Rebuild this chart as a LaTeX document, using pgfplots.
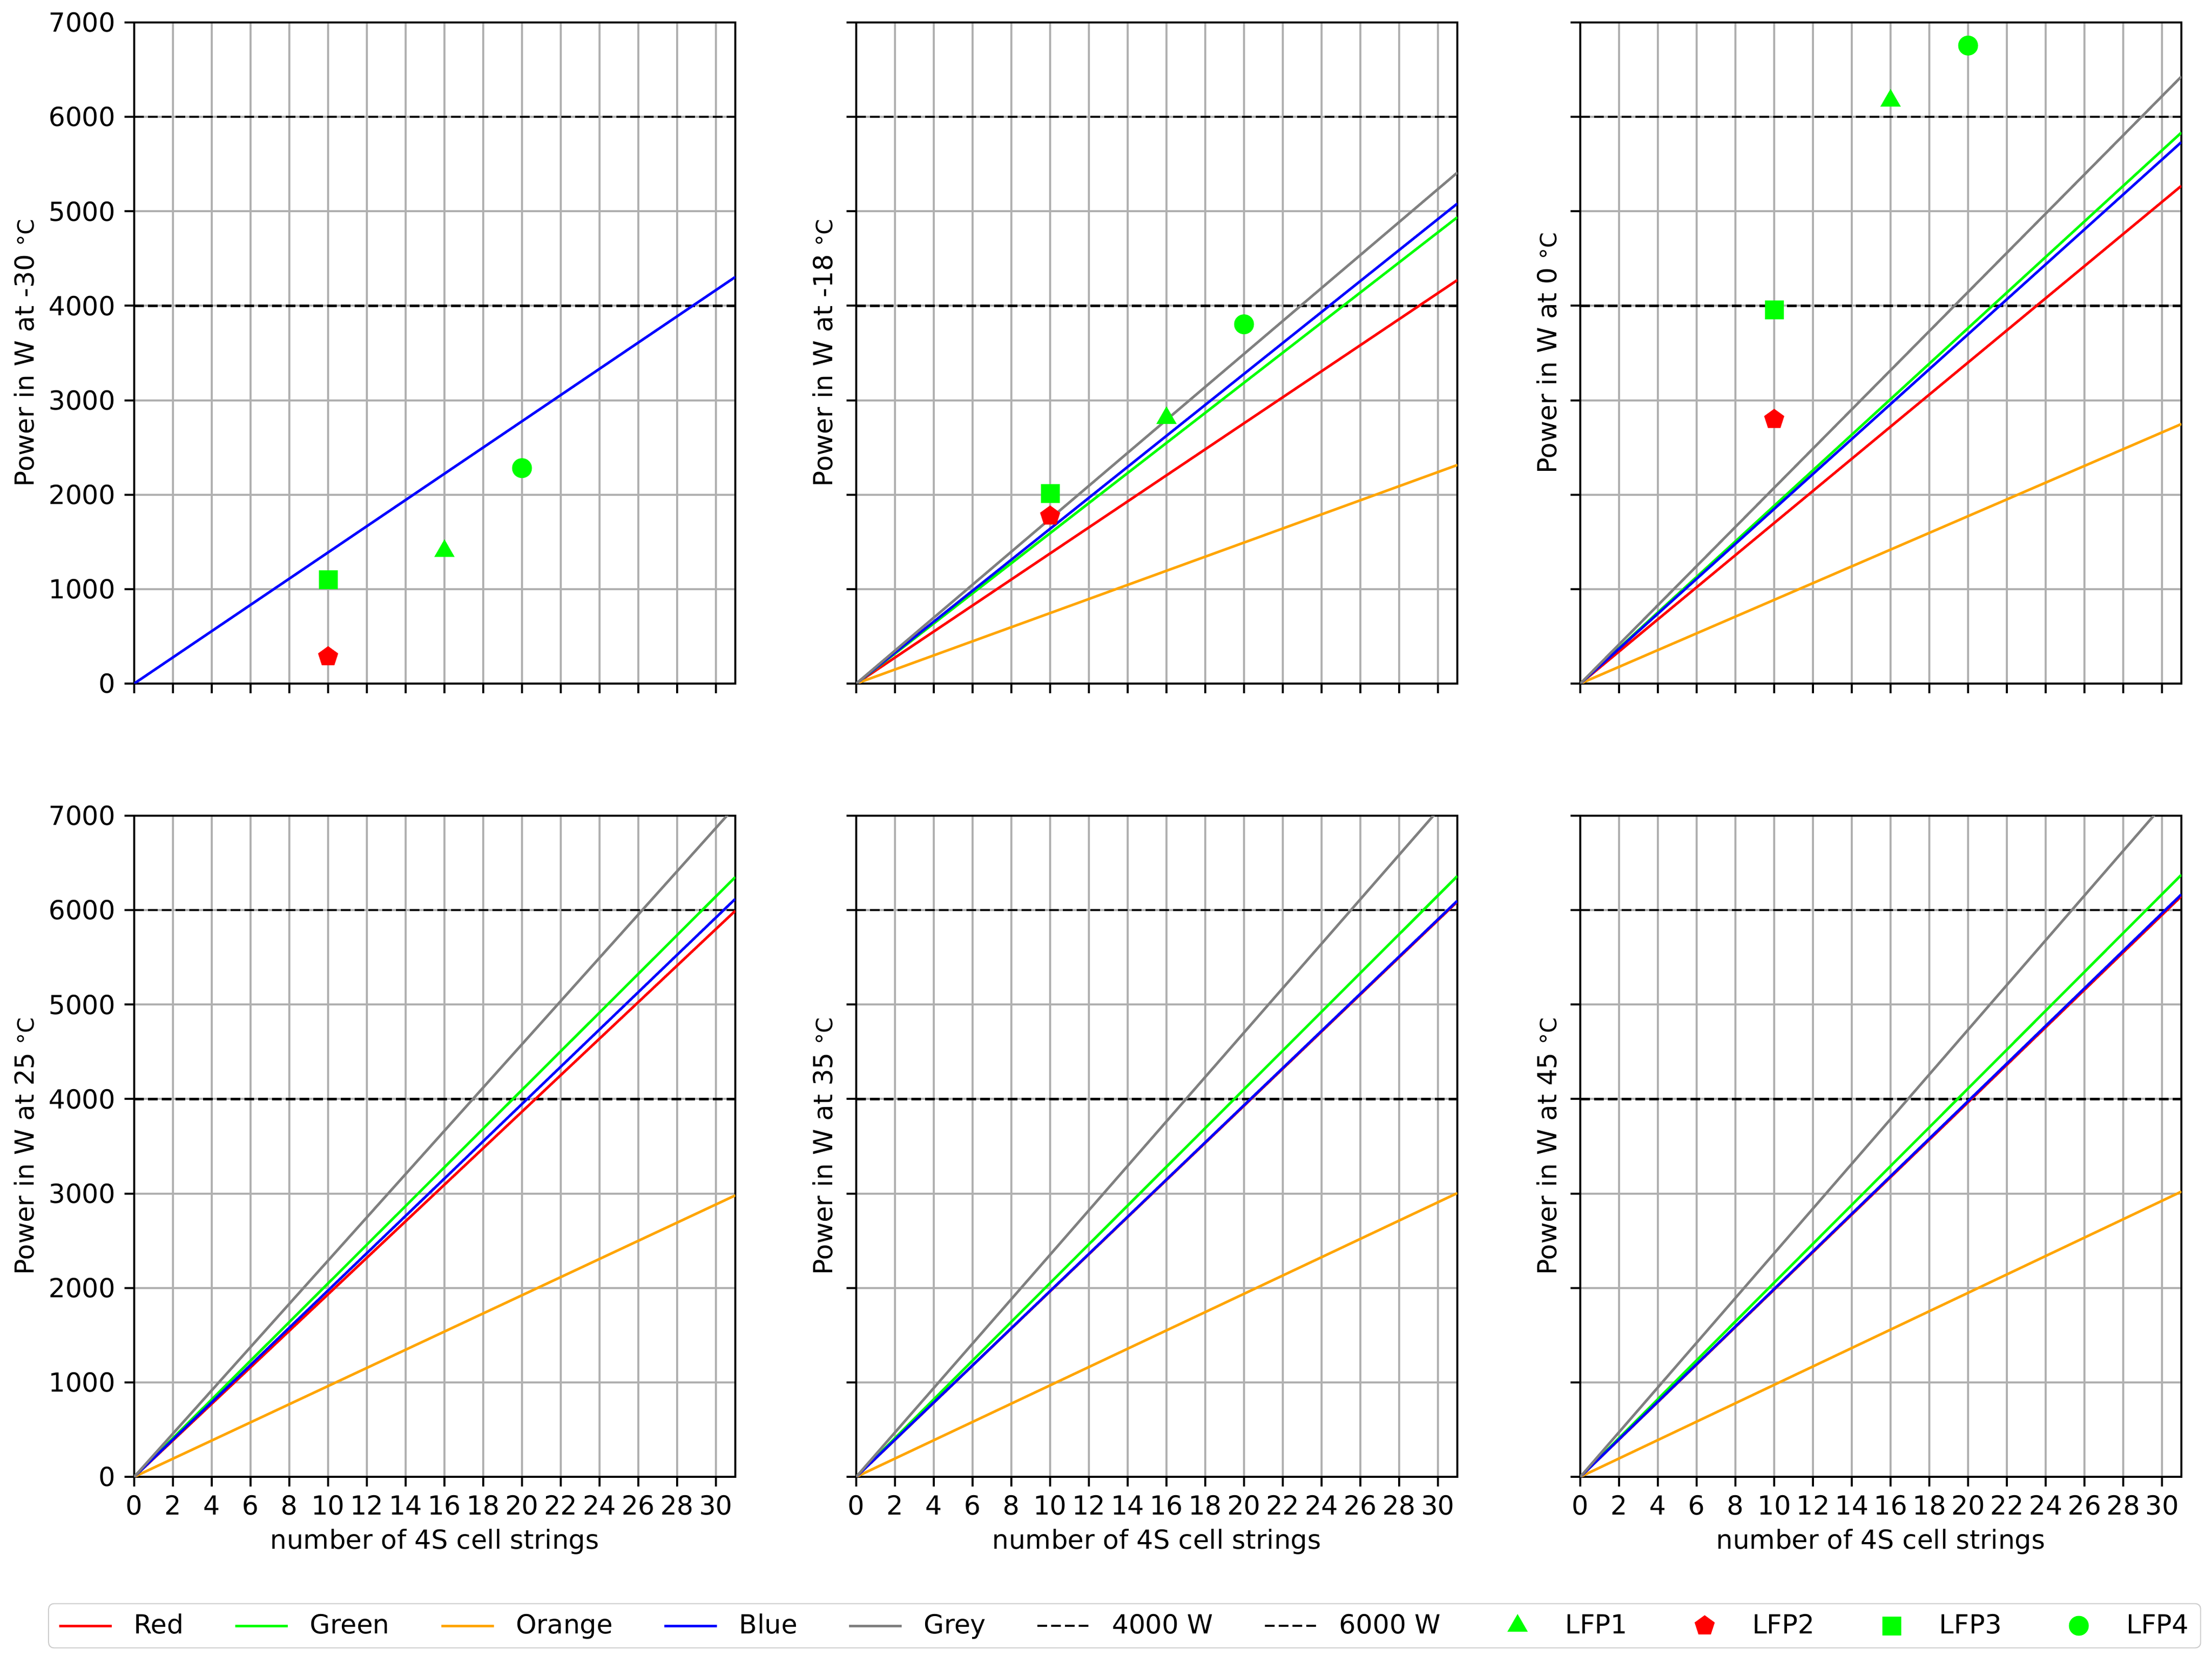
\documentclass[border=0pt]{standalone}
\usepackage{fontspec}
\setmainfont{DejaVu Sans}
\usepackage{pgfplots}
\pgfplotsset{compat=1.18}
\definecolor{cRed}{HTML}{FF0000}
\definecolor{cGreen}{HTML}{00FF00}
\definecolor{cOrange}{HTML}{FFA500}
\definecolor{cBlue}{HTML}{0000FF}
\definecolor{cGrey}{HTML}{808080}
\definecolor{gridc}{HTML}{B0B0B0}
\newcommand{\fs}{\fontsize{10.3}{12.4}\selectfont}
\newcommand{\degc}{{\fontsize{8.8}{10}\selectfont °C}}
\pgfplotsset{
  panel/.style={
    scale only axis, width=235.6pt, height=259.2pt,
    xmin=0, xmax=31, ymin=0, ymax=7000,
    xtick={0,2,...,30}, ytick={0,1000,...,7000},
    xtick pos=left, ytick pos=left,
    tick align=outside, major tick length=3.8pt,
    grid=major, grid style={gridc, line width=0.8pt},
    axis line style={black, line width=0.9pt},
    tick style={black, line width=0.8pt},
    tick label style={font=\fs},
    label style={font=\fs},
    /pgf/number format/assume math mode=true,
    /pgf/number format/1000 sep={},
    scaled ticks=false,
    xlabel style={at={(axis description cs:0.5,-0.098)}, anchor=center},
    legend image code/.code={\path (0pt,-2pt) (20.6pt,2pt);\draw[mark repeat=2,mark phase=2,#1] plot coordinates {(0pt,0pt)(10.3pt,0pt)(20.6pt,0pt)};},
  },
  lefty/.style={ylabel style={at={(axis description cs:-0.183,0.5)}, anchor=center}},
  othery/.style={yticklabels={}, ylabel style={at={(axis description cs:-0.056,0.5)}, anchor=center}},
  ln/.style={line width=1pt},
  dsh/.style={black, line width=0.9pt, dash pattern=on 3.8pt off 1.6pt},
  lfpA/.style={only marks, mark=triangle*, mark size=4.2pt, cGreen, mark options={fill=cGreen, draw=cGreen}},
  lfpB/.style={only marks, mark=pentagon*, mark size=3.9pt, cRed, mark options={fill=cRed, draw=cRed}},
  lfpC/.style={only marks, mark=square*, mark size=3.5pt, cGreen, mark options={fill=cGreen, draw=cGreen}},
  lfpD/.style={only marks, mark=*, mark size=3.7pt, cGreen, mark options={fill=cGreen, draw=cGreen}},
}
\begin{document}
\begin{tikzpicture}[font=\fs]
\useasboundingbox (0,0) rectangle (867pt,651.4pt);

% ---------- -30 C
\begin{axis}[panel, lefty, at={(52.6pt,383.4pt)}, anchor=south west, xticklabels={},
  ylabel={Power in W at -30 \degc}]
\addplot[dsh] coordinates {(0,4000) (31,4000)};
\addplot[dsh] coordinates {(0,6000) (31,6000)};
\addplot[ln, cBlue] coordinates {(0,0) (31,4305)};
\addplot[lfpA] coordinates {(16,1403)};
\addplot[lfpB] coordinates {(10,284)};
\addplot[lfpC] coordinates {(10,1099)};
\addplot[lfpD] coordinates {(20,2281)};
\end{axis}

% ---------- -18 C
\begin{axis}[panel, othery, at={(335.6pt,383.4pt)}, anchor=south west, xticklabels={},
  ylabel={Power in W at -18 \degc}]
\addplot[dsh] coordinates {(0,4000) (31,4000)};
\addplot[dsh] coordinates {(0,6000) (31,6000)};
\addplot[ln, cRed] coordinates {(0,0) (31,4272)};
\addplot[ln, cGreen] coordinates {(0,0) (31,4937)};
\addplot[ln, cOrange] coordinates {(0,0) (31,2314)};
\addplot[ln, cBlue] coordinates {(0,0) (31,5082)};
\addplot[ln, cGrey] coordinates {(0,0) (31,5410)};
\addplot[lfpA] coordinates {(16,2811)};
\addplot[lfpB] coordinates {(10,1774)};
\addplot[lfpC] coordinates {(10,2011)};
\addplot[lfpD] coordinates {(20,3804)};
\end{axis}

% ---------- 0 C
\begin{axis}[panel, othery, at={(619.4pt,383.4pt)}, anchor=south west, xticklabels={},
  ylabel={Power in W at 0 \degc}]
\addplot[dsh] coordinates {(0,4000) (31,4000)};
\addplot[dsh] coordinates {(0,6000) (31,6000)};
\addplot[ln, cRed] coordinates {(0,0) (31,5270)};
\addplot[ln, cGreen] coordinates {(0,0) (31,5834)};
\addplot[ln, cOrange] coordinates {(0,0) (31,2748)};
\addplot[ln, cBlue] coordinates {(0,0) (31,5733)};
\addplot[ln, cGrey] coordinates {(0,0) (31,6427)};
\addplot[lfpA] coordinates {(16,6172)};
\addplot[lfpB] coordinates {(10,2797)};
\addplot[lfpC] coordinates {(10,3958)};
\addplot[lfpD] coordinates {(20,6755)};
\end{axis}

% ---------- 25 C
\begin{axis}[panel, lefty, at={(52.6pt,72.4pt)}, anchor=south west,
  xlabel={number of 4S cell strings}, ylabel={Power in W at 25 \degc}]
\addplot[dsh] coordinates {(0,4000) (31,4000)};
\addplot[dsh] coordinates {(0,6000) (31,6000)};
\addplot[ln, cRed] coordinates {(0,0) (31,5993)};
\addplot[ln, cGreen] coordinates {(0,0) (31,6350)};
\addplot[ln, cOrange] coordinates {(0,0) (31,2980)};
\addplot[ln, cBlue] coordinates {(0,0) (31,6119)};
\addplot[ln, cGrey] coordinates {(0,0) (31,7099)};
\end{axis}

% ---------- 35 C (carries the legend)
\begin{axis}[panel, othery, at={(335.6pt,72.4pt)}, anchor=south west,
  xlabel={number of 4S cell strings}, ylabel={Power in W at 35 \degc},
  legend columns=11,
  legend style={at={(0.4465,-0.2253)}, anchor=center, draw=black!20, fill=white,
    rounded corners=2pt, font=\fs, inner xsep=3.6pt, inner ysep=3pt,
    nodes={inner sep=1pt},
    /tikz/every odd column/.append style={column sep=7.2pt},
    /tikz/every even column/.append style={column sep=18.7pt}}]
\addlegendimage{ln, cRed}\addlegendentry{Red}
\addlegendimage{ln, cGreen}\addlegendentry{Green}
\addlegendimage{ln, cOrange}\addlegendentry{Orange}
\addlegendimage{ln, cBlue}\addlegendentry{Blue}
\addlegendimage{ln, cGrey}\addlegendentry{Grey}
\addlegendimage{dsh}\addlegendentry{4000 W}
\addlegendimage{dsh}\addlegendentry{6000 W}
\addlegendimage{lfpA}\addlegendentry{LFP1}
\addlegendimage{lfpB}\addlegendentry{LFP2}
\addlegendimage{lfpC}\addlegendentry{LFP3}
\addlegendimage{lfpD}\addlegendentry{LFP4}
\addplot[dsh, forget plot] coordinates {(0,4000) (31,4000)};
\addplot[dsh, forget plot] coordinates {(0,6000) (31,6000)};
\addplot[ln, cRed, forget plot] coordinates {(0,0) (31,6090)};
\addplot[ln, cGreen, forget plot] coordinates {(0,0) (31,6360)};
\addplot[ln, cOrange, forget plot] coordinates {(0,0) (31,3004)};
\addplot[ln, cBlue, forget plot] coordinates {(0,0) (31,6099)};
\addplot[ln, cGrey, forget plot] coordinates {(0,0) (31,7291)};
\end{axis}

% ---------- 45 C
\begin{axis}[panel, othery, at={(619.4pt,72.4pt)}, anchor=south west,
  xlabel={number of 4S cell strings}, ylabel={Power in W at 45 \degc}]
\addplot[dsh] coordinates {(0,4000) (31,4000)};
\addplot[dsh] coordinates {(0,6000) (31,6000)};
\addplot[ln, cRed] coordinates {(0,0) (31,6148)};
\addplot[ln, cGreen] coordinates {(0,0) (31,6374)};
\addplot[ln, cOrange] coordinates {(0,0) (31,3020)};
\addplot[ln, cBlue] coordinates {(0,0) (31,6167)};
\addplot[ln, cGrey] coordinates {(0,0) (31,7338)};
\end{axis}
\end{tikzpicture}
\end{document}
